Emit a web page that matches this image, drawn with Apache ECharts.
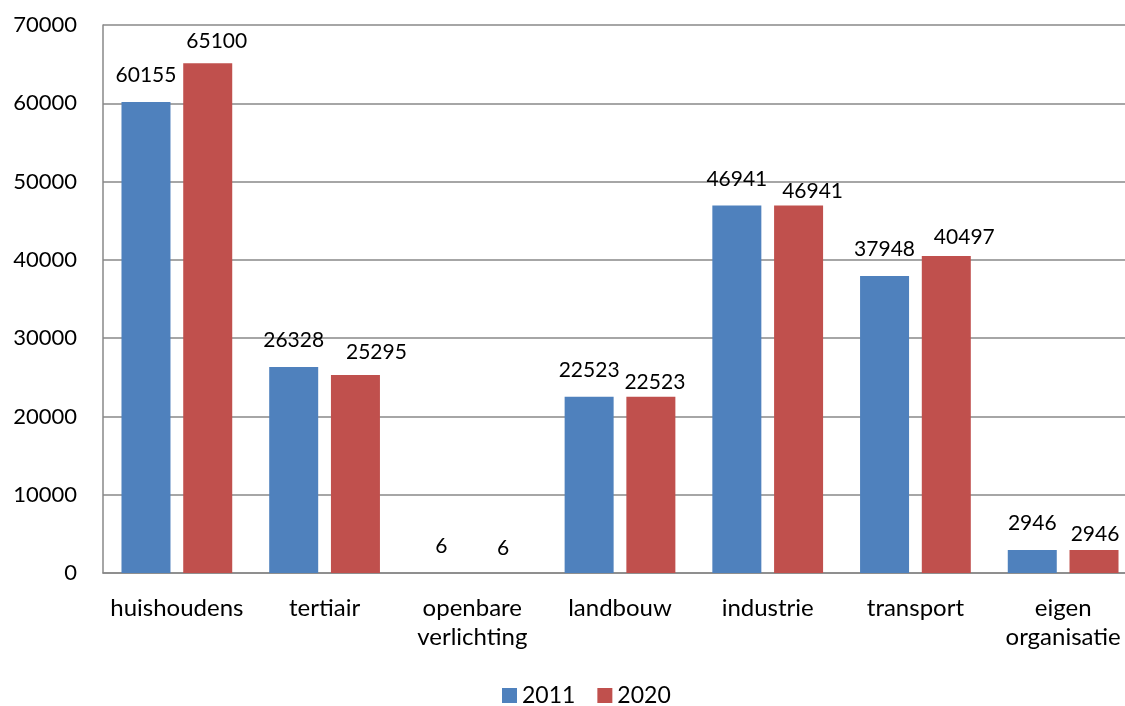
<!DOCTYPE html>
<html>
<head>
<meta charset="utf-8">
<script src="https://cdn.jsdelivr.net/npm/echarts@6/dist/echarts.min.js"></script>
<style>html,body{margin:0;padding:0;background:#fff;overflow:hidden}#c{width:1140px;height:706px}</style>
</head>
<body>
<div id="c"></div>
<script>
const categories = ['huishoudens', 'tertiair', 'openbare\nverlichting', 'landbouw', 'industrie', 'transport', 'eigen\norganisatie'];
const values2011 = [60155, 26328, 6, 22523, 46941, 37948, 2946];
const values2020 = [65100, 25295, 6, 22523, 46941, 40497, 2946];
const seriesNames = ['2011', '2020'];
// label nudges (layout only) for the 2020 labels, as placed in the original
const labelNudge2020 = [[9, 4], [21, 4], [0, 2], [4, 12], [14, 12], [18, 8], [1, 11]];

const FONT = 'Lato';
const chart = echarts.init(document.getElementById('c'), null, {renderer: 'canvas'});
const labelOpt = {show: true, position: 'top', distance: 16, color: '#000', fontSize: 21, fontFamily: FONT};
chart.setOption({
  animation: false,
  textStyle: {fontFamily: FONT},
  grid: {left: 103, top: 25, width: 1034, height: 548, containLabel: false},
  legend: {
    top: 679, left: 497, itemWidth: 15, itemHeight: 15, itemGap: 22,
    icon: 'rect',
    textStyle: {fontSize: 23, color: '#000', fontFamily: FONT},
    data: seriesNames
  },
  xAxis: {
    type: 'category', data: categories,
    axisLine: {lineStyle: {color: '#888', width: 1.5}},
    axisTick: {show: false},
    axisLabel: {fontSize: 24, color: '#000', margin: 21, lineHeight: 29, fontFamily: FONT, interval: 0}
  },
  yAxis: {
    type: 'value', min: 0, max: 70000, interval: 10000,
    axisLine: {show: true, lineStyle: {color: '#888', width: 1.5}},
    axisTick: {show: false},
    splitLine: {lineStyle: {color: '#888', width: 1.5}},
    axisLabel: {fontSize: 22, color: '#000', margin: 26, fontFamily: FONT, formatter: v => String(v)}
  },
  series: [
    {name: seriesNames[0], type: 'bar', data: values2011, barWidth: 49, barGap: '26%', itemStyle: {color: '#4F81BD'}, label: labelOpt},
    {name: seriesNames[1], type: 'bar',
     data: values2020.map((v, i) => ({value: v, label: {offset: labelNudge2020[i]}})),
     barWidth: 49, itemStyle: {color: '#C0504D'}, label: labelOpt}
  ]
});
</script>
</body>
</html>
